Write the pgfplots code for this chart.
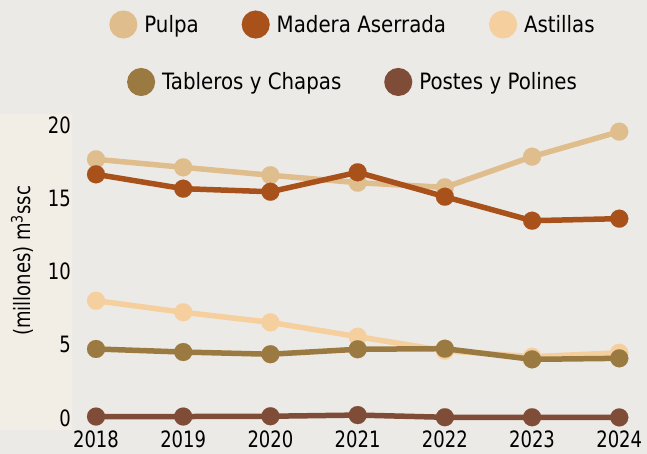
\documentclass[border=0pt]{standalone}
\usepackage{fontspec}
\setmainfont{DejaVu Sans}[FakeStretch=0.8]
\newfontfamily\lgf{DejaVu Sans}[FakeStretch=0.88]
\usepackage{pgfplots}
\pgfplotsset{compat=1.18}
\definecolor{bgc}{HTML}{ECEAE6}
\definecolor{strip}{HTML}{F2EEE6}
\definecolor{pulpa}{HTML}{E0BD8D}
\definecolor{madera}{HTML}{A9511A}
\definecolor{astillas}{HTML}{F5CF9E}
\definecolor{tableros}{HTML}{9A7A40}
\definecolor{postes}{HTML}{7F4C37}
\newcommand{\cf}{\fontsize{22.5bp}{26bp}\selectfont}
\pgfplotsset{
  common/.style={
    scale only axis, width=568bp, height=316bp,
    at={(72bp,24bp)}, anchor=south west,
    xmin=2017.7248, xmax=2024.2373,
    ymin=-0.8205, ymax=20.786,
    axis line style={draw=none},
    major tick length=0pt,
    xtick={2018,...,2024}, ytick={0,5,10,15,20},
    /pgf/number format/assume math mode=true,
    /pgf/number format/1000 sep={},
    tick label style={font=\cf},
    y tick label style={anchor=east, inner xsep=1bp},
    x tick label style={anchor=north, inner ysep=0pt, yshift=-1bp},
    legend image code/.code={\fill[##1] (0bp,0bp) circle (11.25bp);},
    legend style={draw=none, fill=none, font=\lgf\cf, anchor=center,
      legend columns=-1,
      nodes={inner sep=0pt},
      /tikz/every odd column/.append style={column sep=7bp},
      /tikz/every even column/.append style={column sep=43bp}},
  },
  ser/.style={color=#1, line width=5.5bp, mark=*, mark size=9bp,
    mark options={line width=0.1pt, fill=#1, draw=#1}},
}
\begin{document}
\begin{tikzpicture}
\fill[bgc] (0,0) rectangle (647bp,454bp);
\useasboundingbox (0,0) rectangle (647bp,454bp);
\fill[strip] (0,24bp) rectangle (72bp,340bp);
\begin{axis}[common,
  ylabel={(millones) m\textsuperscript{3}ssc},
  ylabel style={font=\cf, at={(axis description cs:-0.088,0.5354)}, anchor=center, rotate=0},
  legend style={at={(axis description cs:0.493,1.2832)}}]
\addplot[ser=pulpa] coordinates {(2018,17.69) (2019,17.14) (2020,16.6) (2021,16.09) (2022,15.77) (2023,17.87) (2024,19.58)};
\addlegendentry{Pulpa}
\addplot[ser=madera] coordinates {(2018,16.66) (2019,15.68) (2020,15.47) (2021,16.8) (2022,15.13) (2023,13.49) (2024,13.63)};
\addlegendentry{Madera Aserrada}
\addplot[ser=astillas] coordinates {(2018,8.02) (2019,7.23) (2020,6.54) (2021,5.56) (2022,4.6) (2023,4.19) (2024,4.46)};
\addlegendentry{Astillas}
\end{axis}
\begin{axis}[common, hide axis,
  legend style={at={(axis description cs:0.493,1.1013)}}]
\addplot[ser=tableros] coordinates {(2018,4.72) (2019,4.51) (2020,4.36) (2021,4.7) (2022,4.74) (2023,4.01) (2024,4.08)};
\addlegendentry{Tableros y Chapas}
\addplot[ser=postes] coordinates {(2018,0.1) (2019,0.1) (2020,0.12) (2021,0.2) (2022,0.05) (2023,0.05) (2024,0.04)};
\addlegendentry{Postes y Polines}
\end{axis}
\end{tikzpicture}
\end{document}
